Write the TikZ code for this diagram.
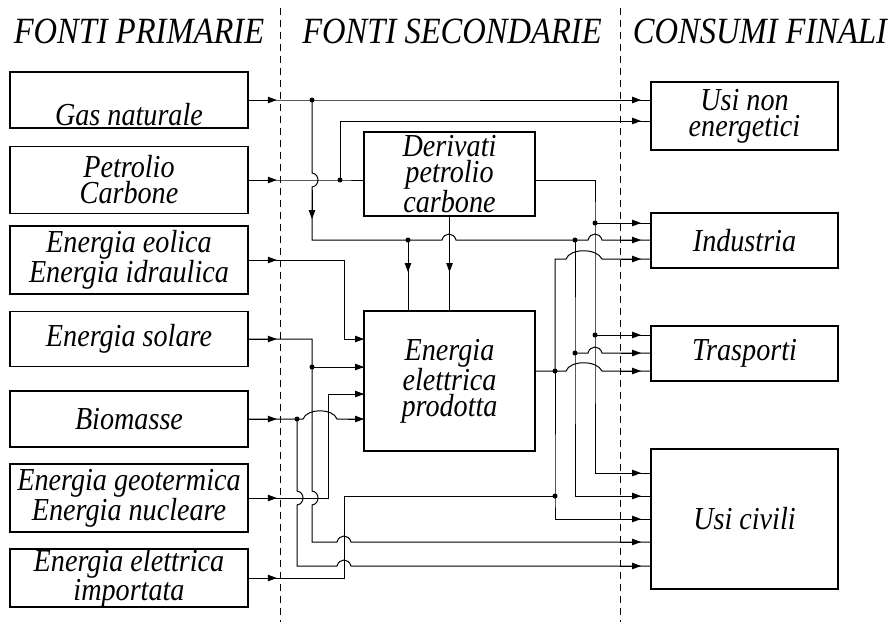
\documentclass[tikz,border=0pt]{standalone}
\usepackage{fontspec}
\setmainfont[FakeStretch=0.88]{Liberation Serif}
\usetikzlibrary{arrows.meta}

\tikzset{
    box/.style={draw, line width=1.5pt, align=center, inner sep=0pt,
        font=\itshape\fontsize{32}{26}\selectfont},
    srcbox/.style={box, minimum width=238pt},
    midbox/.style={box, minimum width=171pt},
    endbox/.style={box, minimum width=187pt},
    wire/.style={line width=1pt},
    flow/.style={wire, -{Triangle[length=9pt,width=6.5pt]}},
    heading/.style={font=\itshape\fontsize{37}{37}\selectfont},
    sep/.style={line width=0.8pt, dash pattern=on 7pt off 5pt},
}

\begin{document}
\begin{tikzpicture}[x=1pt, y=-1pt]
            \useasboundingbox (0,0) rectangle (891,622);
            % Headings and separators:
                \node[heading] (hprim) at (139,31) {FONTI PRIMARIE};
                \node[heading] (hsec) at (452,31) {FONTI SECONDARIE};
                \node[heading] (hfin) at (760,31) {CONSUMI FINALI};
                \draw[sep] (280,8) -- (280,622);
                \draw[sep] (620,8) -- (620,622);
            % Blocks:
                \node[srcbox, minimum height=56pt] (gas) at (129,100) {\raisebox{-25pt}[0pt][0pt]{Gas naturale}};
                \node[srcbox, minimum height=67pt] (pet) at (129,180) {Petrolio\\Carbone};
                \node[srcbox, minimum height=68pt] (eol) at (129,260) {Energia eolica\\Energia idraulica};
                \node[srcbox, minimum height=55pt] (sol) at (129,339) {Energia solare};
                \node[srcbox, minimum height=56pt] (bio) at (129,419) {Biomasse};
                \node[srcbox, minimum height=68pt] (geo) at (129,498) {Energia geotermica\\Energia nucleare};
                \node[srcbox, minimum height=56pt] (imp) at (129,578) {Energia elettrica\\importata};
                \node[midbox, minimum height=84pt] (der) at (449.5,174) {Derivati\\petrolio\\carbone};
                \node[midbox, minimum height=140pt] (ele) at (449.5,381) {Energia\\elettrica\\prodotta};
                \node[endbox, minimum height=68pt] (une) at (744.5,116) {Usi non\\energetici};
                \node[endbox, minimum height=55pt] (ind) at (744.5,240.5) {Industria};
                \node[endbox, minimum height=55pt] (tra) at (744.5,353.5) {Trasporti};
                \node[endbox, minimum height=140pt] (civ) at (744.5,519) {Usi civili};
            % Junctions and inputs:
                \coordinate (j1) at (312,100);  \coordinate (j2) at (408,240);
                \coordinate (j3) at (340,180);  \coordinate (j4) at (595,223);
                \coordinate (j5) at (575,240);  \coordinate (j6) at (595,335);
                \coordinate (j7) at (575,353);  \coordinate (j8) at (555,371);
                \coordinate (j9) at (555,496);  \coordinate (j10) at (312,367);
                \coordinate (j11) at (297,419);
                \coordinate (ele1) at (364,339); \coordinate (ele2) at (364,367);
                \coordinate (ele3) at (364,394); \coordinate (ele4) at (364,419);
                \coordinate (une1) at (651,100); \coordinate (une2) at (651,121);
                \coordinate (ind1) at (651,223); \coordinate (ind2) at (651,240);
                \coordinate (ind3) at (651,259); \coordinate (tra1) at (651,335);
                \coordinate (tra2) at (651,353); \coordinate (tra3) at (651,371);
                \coordinate (civ1) at (651,473); \coordinate (civ2) at (651,496);
                \coordinate (civ3) at (651,519); \coordinate (civ4) at (651,542);
                \coordinate (civ5) at (651,566);
            % Wires:
                \draw[wire] (gas.east) -- (j1) -- (une1);
                \draw[wire] (j1) -- (312,173) .. controls (320,174) and (320,186) .. (312,187) -- (312,240) -- (j2)
                    -- (442,240) .. controls (444,232) and (454,232) .. (456,240) -- (j5)
                    -- (588,240) .. controls (590,232) and (600,232) .. (602,240) -- (ind2);
                \draw[wire] (j2) -- (ele.north -| j2);
                \draw[wire] (der.south) -- (ele.north);
                \draw[wire] (pet.east) -- (j3) -- (der.west |- j3);
                \draw[wire] (j3) -- (j3 |- une2) -- (une2);
                \draw[wire] (der.east |- j3) -- (595,180) -- (j4) -- (j6) -- (595,473) -- (civ1);
                \draw[wire] (j4) -- (ind1);
                \draw[wire] (j6) -- (tra1);
                \draw[wire] (j5) -- (j7) -- (575,496) -- (civ2);
                \draw[wire] (j7) -- (588,353) .. controls (590,345) and (600,345) .. (602,353) -- (tra2);
                \draw[wire] (ele.east |- j8) -- (j8) -- (566,371) .. controls (570,360) and (597,360) .. (602,371) -- (tra3);
                \draw[wire] (j8) -- (555,259) -- (566,259) .. controls (570,248) and (597,248) .. (602,259) -- (ind3);
                \draw[wire] (j8) -- (j9) -- (555,519) -- (civ3);
                \draw[wire] (imp.east) -- (344,578) -- (344,496) -- (j9);
                \draw[wire] (sol.east) -- (312,339) -- (j10) -- (312,491) .. controls (320,492) and (320,504) .. (312,505)
                    -- (312,542) -- (337,542) .. controls (339,534) and (349,534) .. (351,542) -- (civ4);
                \draw[wire] (j10) -- (ele2);
                \draw[wire] (eol.east) -- (344,260) -- (344,339) -- (ele1);
                \draw[wire] (bio.east) -- (j11) -- (303,419) .. controls (307,408) and (333,408) .. (337,419) -- (ele4);
                \draw[wire] (j11) -- (297,491) .. controls (305,492) and (305,504) .. (297,505)
                    -- (297,566) -- (337,566) .. controls (339,558) and (349,558) .. (351,566) -- (civ5);
                \draw[wire] (geo.east) -- (328,498) -- (328,394) -- (ele3);
            % Arrow heads:
                \foreach \b in {gas,pet,eol,sol,bio,geo,imp}
                    \draw[flow] (\b.east) -- ([xshift=28pt]\b.east);
                \foreach \c in {une1,une2,ind1,ind2,ind3,tra1,tra2,tra3,civ1,civ2,civ3,civ4,civ5}
                    \draw[flow] ([xshift=-30pt]\c) -- ([xshift=-10pt]\c);
                \foreach \c in {ele1,ele2,ele3,ele4}
                    \draw[flow] ([xshift=-16pt]\c) -- (\c);
                \draw[flow] (312,190) -- (312,219);
                \draw[flow] (j2) -- (408,272);
                \draw[flow] (der.south) -- (449.5,272);
            % Dots:
                \foreach \j in {j1,j2,j3,j4,j5,j6,j7,j8,j9,j10,j11}
                    \fill (\j) circle (2.5pt);
            \end{tikzpicture}
\end{document}
